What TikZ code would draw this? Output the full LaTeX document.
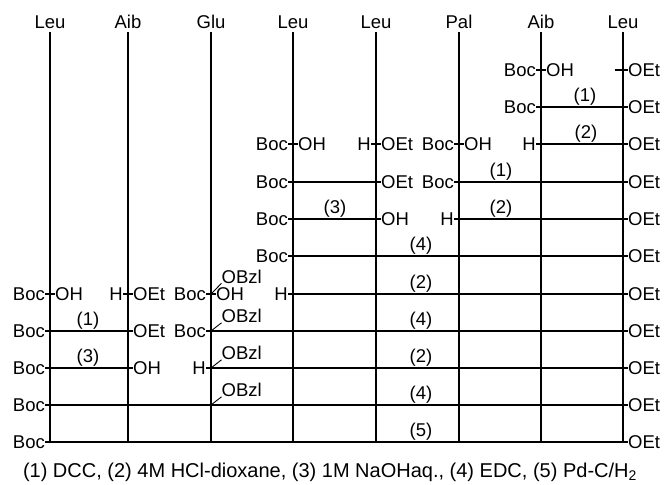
\documentclass[tikz,border=0pt]{standalone}
\usepackage{fontspec}
\setmainfont{Liberation Sans}
\begin{document}
\begin{tikzpicture}[x=1pt,y=-1pt,
  lbl/.style={inner sep=0pt, font=\fontsize{18.5}{20}\selectfont, text height=13.2pt, text depth=0pt},
  lt/.style={lbl, anchor=east},
  rt/.style={lbl, anchor=west},
  stp/.style={inner sep=0pt, anchor=base, font=\fontsize{18.5}{20}\selectfont},
  hdr/.style={inner sep=0pt, anchor=base, font=\fontsize{18.5}{20}\selectfont},
  ln/.style={line width=1.1pt},
  br/.style={line width=0.9pt},
]
\useasboundingbox (0,0) rectangle (665,485);

% headers and vertical lines
\node[hdr] (h1) at (50,28.3) {Leu};
\node[hdr] (h2) at (128,28.3) {Aib};
\node[hdr] (h3) at (211,28.3) {Glu};
\node[hdr] (h4) at (293,28.3) {Leu};
\node[hdr] (h5) at (376,28.3) {Leu};
\node[hdr] (h6) at (459,28.3) {Pal};
\node[hdr] (h7) at (541,28.3) {Aib};
\node[hdr] (h8) at (623,28.3) {Leu};
\coordinate (b1) at (50,442.5);
\coordinate (b2) at (128,442.5);
\coordinate (b3) at (211,442.5);
\coordinate (b4) at (293,442.5);
\coordinate (b5) at (376,442.5);
\coordinate (b6) at (459,442.5);
\coordinate (b7) at (541,442.5);
\coordinate (b8) at (623,442.5);
\foreach \i in {1,...,8} {\draw[ln] ([yshift=-3.7pt]h\i.base) -- (b\i);}

% row 1
\node[lt] (r1a) at (536,70) {Boc};
\node[rt] (r1b) at (546,70) {OH};
\draw[ln] (r1a) -- (r1b);
\coordinate (r1c) at (615,70);
\node[rt] (r1d) at (628,70) {OEt};
\draw[ln] (r1c) -- (r1d);

% row 2
\node[lt] (r2a) at (536,107) {Boc};
\node[rt] (r2b) at (628,107) {OEt};
\draw[ln] (r2a) -- (r2b);
\node[stp] (s2) at (585,101) {(1)};

% row 3
\node[lt] (r3a) at (288,144) {Boc};
\node[rt] (r3b) at (298,144) {OH};
\draw[ln] (r3a) -- (r3b);
\node[lt] (r3c) at (371,144) {H};
\node[rt] (r3d) at (381,144) {OEt};
\draw[ln] (r3c) -- (r3d);
\node[lt] (r3e) at (454,144) {Boc};
\node[rt] (r3f) at (464,144) {OH};
\draw[ln] (r3e) -- (r3f);
\node[lt] (r3g) at (536,144) {H};
\node[rt] (r3h) at (628,144) {OEt};
\draw[ln] (r3g) -- (r3h);
\node[stp] (s3) at (586,138) {(2)};

% row 4
\node[lt] (r4a) at (288,182) {Boc};
\node[rt] (r4b) at (381,182) {OEt};
\draw[ln] (r4a) -- (r4b);
\node[lt] (r4c) at (454,182) {Boc};
\node[rt] (r4d) at (628,182) {OEt};
\draw[ln] (r4c) -- (r4d);
\node[stp] (s4) at (501,176) {(1)};

% row 5
\node[lt] (r5a) at (288,219) {Boc};
\node[rt] (r5b) at (381,219) {OH};
\draw[ln] (r5a) -- (r5b);
\node[stp] (s5a) at (335,213) {(3)};
\node[lt] (r5c) at (454,219) {H};
\node[rt] (r5d) at (628,219) {OEt};
\draw[ln] (r5c) -- (r5d);
\node[stp] (s5b) at (501,213) {(2)};

% row 6
\node[lt] (r6a) at (288,256) {Boc};
\node[rt] (r6b) at (628,256) {OEt};
\draw[ln] (r6a) -- (r6b);
\node[stp] (s6) at (421,250) {(4)};

% row 7
\node[lt] (r7a) at (45,294) {Boc};
\node[rt] (r7b) at (55,294) {OH};
\draw[ln] (r7a) -- (r7b);
\node[lt] (r7c) at (123,294) {H};
\node[rt] (r7d) at (133,294) {OEt};
\draw[ln] (r7c) -- (r7d);
\node[lt] (r7e) at (206,294) {Boc};
\node[rt] (r7f) at (216,294) {OH};
\draw[ln] (r7e) -- (r7f);
\node[lt] (r7g) at (288,294) {H};
\node[rt] (r7h) at (628,294) {OEt};
\draw[ln] (r7g) -- (r7h);
\node[stp] (s7) at (421,288) {(2)};

% row 8
\node[lt] (r8a) at (45,331) {Boc};
\node[rt] (r8b) at (133,331) {OEt};
\draw[ln] (r8a) -- (r8b);
\node[stp] (s8a) at (88,325) {(1)};
\node[lt] (r8c) at (206,331) {Boc};
\node[rt] (r8d) at (628,331) {OEt};
\draw[ln] (r8c) -- (r8d);
\node[stp] (s8b) at (421,325) {(4)};

% row 9
\node[lt] (r9a) at (45,368) {Boc};
\node[rt] (r9b) at (133,368) {OH};
\draw[ln] (r9a) -- (r9b);
\node[stp] (s9a) at (88,362) {(3)};
\node[lt] (r9c) at (206,368) {H};
\node[rt] (r9d) at (628,368) {OEt};
\draw[ln] (r9c) -- (r9d);
\node[stp] (s9b) at (421,362) {(2)};

% row 10
\node[lt] (r10a) at (45,405) {Boc};
\node[rt] (r10b) at (628,405) {OEt};
\draw[ln] (r10a) -- (r10b);
\node[stp] (s10) at (421,399) {(4)};

% row 11
\node[lt] (r11a) at (45,442) {Boc};
\node[rt] (r11b) at (628,442) {OEt};
\draw[ln] (r11a) -- (r11b);
\node[stp] (s11) at (421,436) {(5)};

% Glu side chains
\coordinate (g7) at (211,294);
\node[rt] (o7) at (221.5,276.5) {OBzl};
\draw[br] (g7) -- (o7.south west);
\coordinate (g8) at (211,331);
\node[rt] (o8) at (221.5,316) {OBzl};
\draw[br] (g8) -- (o8.south west);
\coordinate (g9) at (211,368);
\node[rt] (o9) at (221.5,353) {OBzl};
\draw[br] (g9) -- (o9.south west);
\coordinate (g10) at (211,405);
\node[rt] (o10) at (221.5,390) {OBzl};
\draw[br] (g10) -- (o10.south west);

% caption
\node[inner sep=0pt, anchor=base, font=\fontsize{20}{22}\selectfont] (cap) at (330,477)
  {(1) DCC, (2) 4M HCl-dioxane, (3) 1M NaOHaq., (4) EDC, (5) Pd-C/H\textsubscript{2}};
\end{tikzpicture}
\end{document}
